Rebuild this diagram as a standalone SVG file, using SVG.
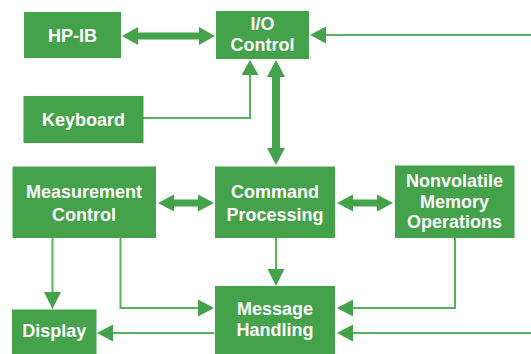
<svg xmlns="http://www.w3.org/2000/svg" width="531" height="354" viewBox="0 0 531 354">
  <style>
    .box { fill: #43a24a; }
    .lbl { font-family: "Liberation Sans", Arial, sans-serif; font-weight: bold; font-size: 18px; fill: #ffffff; text-anchor: middle; }
    .wire { fill: none; stroke: #55b35a; stroke-width: 2; }
    .head { fill: #43a24a; }
    .bus { fill: #43a24a; }
  </style>
  <rect width="531" height="354" fill="#ffffff"/>

  <g id="connectors">
    <!-- HP-IB <-> I/O Control -->
    <polygon class="bus" points="122,36 138,27 138,32.5 199,32.5 199,27 215,36 199,45 199,39.5 138,39.5 138,45"/>
    <!-- external line into I/O Control -->
    <line class="wire" x1="531" y1="35" x2="324" y2="35"/>
    <polygon class="head" points="310,35 326,26.5 326,43.5"/>
    <!-- Keyboard -> I/O Control -->
    <polyline class="wire" points="143,118 250,118 250,73"/>
    <polygon class="head" points="250,60 241.5,75 258.5,75"/>
    <!-- I/O Control <-> Command Processing -->
    <polygon class="bus" points="276,60 285,77 280,77 280,148 285,148 276,165 267,148 272,148 272,77 267,77"/>
    <!-- Measurement Control <-> Command Processing -->
    <polygon class="bus" points="158,203 174,194.5 174,199.5 198,199.5 198,194.5 214,203 198,211.5 198,206.5 174,206.5 174,211.5"/>
    <!-- Command Processing <-> Nonvolatile Memory Operations -->
    <polygon class="bus" points="337,203 353,194.5 353,199.5 377,199.5 377,194.5 393,203 377,211.5 377,206.5 353,206.5 353,211.5"/>
    <!-- Command Processing -> Message Handling -->
    <line class="wire" x1="276" y1="238" x2="276" y2="271"/>
    <polygon class="head" points="276,286 267.5,269 284.5,269"/>
    <!-- Measurement Control -> Display -->
    <line class="wire" x1="52.5" y1="238" x2="52.5" y2="294"/>
    <polygon class="head" points="52.5,309 44,292 61,292"/>
    <!-- Measurement Control -> Message Handling -->
    <polyline class="wire" points="120.5,238 120.5,308 200,308"/>
    <polygon class="head" points="214,308 198,299.5 198,316.5"/>
    <!-- Nonvolatile Memory Operations -> Message Handling -->
    <polyline class="wire" points="455,238 455,308 351,308"/>
    <polygon class="head" points="337,308 353,299.5 353,316.5"/>
    <!-- external line into Message Handling -->
    <line class="wire" x1="531" y1="333" x2="351" y2="333"/>
    <polygon class="head" points="337,333 353,324.5 353,341.5"/>
    <!-- Message Handling -> Display -->
    <line class="wire" x1="214" y1="333" x2="111" y2="333"/>
    <polygon class="head" points="97,333 113,324.5 113,341.5"/>
  </g>

  <g id="hpib">
    <rect class="box" x="24" y="12" width="97" height="46"/>
    <text class="lbl" x="72.5" y="41.5">HP-IB</text>
  </g>
  <g id="io-control">
    <rect class="box" x="216" y="11" width="93" height="48"/>
    <text class="lbl" x="262.5" y="30">I/O</text>
    <text class="lbl" x="262.5" y="51">Control</text>
  </g>
  <g id="keyboard">
    <rect class="box" x="23.5" y="96" width="120" height="47"/>
    <text class="lbl" x="83.5" y="126">Keyboard</text>
  </g>
  <g id="measurement-control">
    <rect class="box" x="12.5" y="166.5" width="143.5" height="71.5"/>
    <text class="lbl" x="84" y="198">Measurement</text>
    <text class="lbl" x="84" y="221">Control</text>
  </g>
  <g id="command-processing">
    <rect class="box" x="215" y="166.5" width="120" height="71.5"/>
    <text class="lbl" x="275" y="198">Command</text>
    <text class="lbl" x="275" y="221">Processing</text>
  </g>
  <g id="nonvolatile-memory">
    <rect class="box" x="395" y="165.5" width="119.5" height="72.5"/>
    <text class="lbl" x="454.5" y="187">Nonvolatile</text>
    <text class="lbl" x="454.5" y="207.5">Memory</text>
    <text class="lbl" x="454.5" y="228">Operations</text>
  </g>
  <g id="message-handling">
    <rect class="box" x="215" y="286" width="120" height="68"/>
    <text class="lbl" x="275" y="315">Message</text>
    <text class="lbl" x="275" y="336">Handling</text>
  </g>
  <g id="display">
    <rect class="box" x="12" y="309.5" width="84.5" height="44.5"/>
    <text class="lbl" x="54.25" y="337">Display</text>
  </g>
</svg>
